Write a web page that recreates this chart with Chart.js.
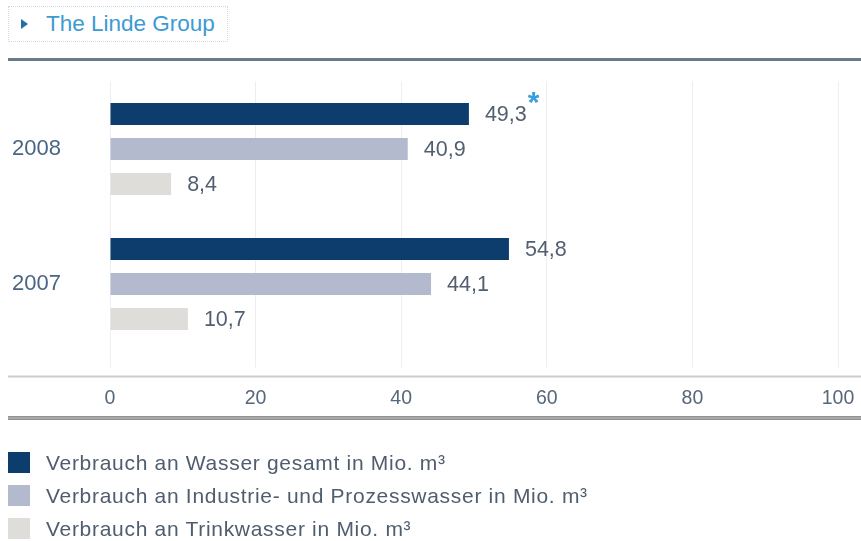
<!DOCTYPE html>
<html lang="de">
<head>
<meta charset="utf-8">
<title>Wasserverbrauch</title>
<script src="https://cdn.jsdelivr.net/npm/chart.js@4.4.1/dist/chart.umd.min.js"></script>
<style>
    html, body { margin: 0; padding: 0; background: #fff; }
    body {
        width: 861px; height: 541px; position: relative; overflow: hidden;
        font-family: 'Liberation Sans', Arial, sans-serif;
    }
    #chart { position: absolute; left: 0; top: 0; }
    .brand {
        position: absolute; left: 8px; top: 6px; width: 220px; height: 36px;
        box-sizing: border-box; border: 1px dotted #d3d9e2;
        color: #3c9ad4; font-size: 22.5px; line-height: 34px;
    }
    .brand .arrow {
        position: absolute; left: 12px; top: 12px; width: 0; height: 0;
        border-top: 5px solid transparent; border-bottom: 5px solid transparent;
        border-left: 7px solid #1f6fa8;
    }
    .brand .name { position: absolute; left: 37px; top: 0; }
    .rule-top { position: absolute; left: 8px; right: 0; top: 58px; height: 3px; background: #687b8a; }
    .rule-bottom {
        position: absolute; left: 8px; right: 0; top: 416px; height: 4px;
        background: linear-gradient(#858585, #b5b5b5 50%, #858585);
    }
    #legend { position: absolute; left: 8px; top: 452px; margin: 0; padding: 0; list-style: none; }
    #legend li {
        display: flex; align-items: center; height: 21px; margin-bottom: 12px;
        font-size: 21px; letter-spacing: 0.7px; color: #4f5d6e;
    }
    #legend .swatch { width: 22px; height: 21px; margin-right: 16px; flex: none; }
</style>
</head>
<body>
<div class="brand"><span class="arrow"></span><span class="name">The Linde Group</span></div>
<div class="rule-top"></div>
<canvas id="chart" width="861" height="541"></canvas>
<div class="rule-bottom"></div>
<ul id="legend"></ul>
<script>
// Wasserverbrauch in Mio. m³
const years = ['2008', '2007'];
const totalWater = [49.3, 54.8];
const industrialWater = [40.9, 44.1];
const drinkingWater = [8.4, 10.7];
const totalNotes = ['*', ''];
const xTicks = [0, 20, 40, 60, 80, 100];
const seriesNames = [
    'Verbrauch an Wasser gesamt in Mio. m³',
    'Verbrauch an Industrie- und Prozesswasser in Mio. m³',
    'Verbrauch an Trinkwasser in Mio. m³',
];

const colors = ['#0c3d6c', '#b3bacd', '#dfddd9'];
const textColor = '#525f70';
const fontFamily = "'Liberation Sans', Arial, sans-serif";

// Grundlinie unter den Balken
const axisBaseline = {
    id: 'axisBaseline',
    beforeDatasetsDraw(chart) {
        const x = chart.scales.x;
        const y = x.top + x.options.grid.tickLength + 9;
        const ctx = chart.ctx;
        ctx.save();
        ctx.strokeStyle = '#c9cdd2';
        ctx.lineWidth = 2;
        ctx.beginPath();
        ctx.moveTo(8, y);
        ctx.lineTo(chart.width, y);
        ctx.stroke();
        ctx.restore();
    },
};

// Werte rechts neben den Balken, mit Komma
const valueLabels = {
    id: 'valueLabels',
    afterDatasetsDraw(chart) {
        const ctx = chart.ctx;
        ctx.save();
        ctx.textBaseline = 'middle';
        chart.data.datasets.forEach((ds, di) => {
            chart.getDatasetMeta(di).data.forEach((bar, i) => {
                const text = ds.data[i].toFixed(1).replace('.', ',');
                const x = bar.x + 16;
                ctx.font = '21.5px ' + fontFamily;
                ctx.fillStyle = textColor;
                ctx.fillText(text, x, bar.y + 1);
                if (di === 0 && totalNotes[i]) {
                    const w = ctx.measureText(text).width;
                    ctx.font = 'bold 30px ' + fontFamily;
                    ctx.fillStyle = '#3a9fd9';
                    ctx.fillText(totalNotes[i], x + w + 1, bar.y - 10);
                }
            });
        });
        ctx.restore();
    },
};

const chart = new Chart(document.getElementById('chart'), {
    type: 'bar',
    data: {
        labels: years,
        datasets: [
            { label: seriesNames[0], data: totalWater, backgroundColor: colors[0] },
            { label: seriesNames[1], data: industrialWater, backgroundColor: colors[1] },
            { label: seriesNames[2], data: drinkingWater, backgroundColor: colors[2] },
        ],
    },
    options: {
        indexAxis: 'y',
        responsive: false,
        animation: false,
        barPercentage: 0.63,
        categoryPercentage: 0.778,
        layout: { padding: { left: 12, right: 23, top: 81.5, bottom: 129.5 } },
        plugins: { legend: { display: false }, tooltip: { enabled: false } },
        scales: {
            x: {
                type: 'linear',
                min: 0,
                max: 100,
                afterBuildTicks: scale => {
                    scale.ticks = xTicks.map(v => ({ value: v }));
                },
                afterFit: scale => {
                    // "100" darf über den Rand hinausragen
                    scale.height = 60;
                    scale.paddingLeft = 0;
                    scale.paddingRight = 0;
                },
                grid: { color: '#eceef1', tickColor: '#eceef1', tickLength: 16 },
                border: { display: false },
                ticks: { padding: 19, color: '#56677a', font: { family: fontFamily, size: 19.5 } },
            },
            y: {
                afterFit: scale => {
                    scale.width = 98;
                },
                grid: { display: false },
                border: { display: false },
                ticks: { crossAlign: 'far', padding: 0, color: '#4b6584', font: { family: fontFamily, size: 22 } },
            },
        },
    },
    plugins: [axisBaseline, valueLabels],
});

// Legende
const legend = document.getElementById('legend');
chart.data.datasets.forEach(ds => {
    const li = document.createElement('li');
    const box = document.createElement('span');
    box.className = 'swatch';
    box.style.background = ds.backgroundColor;
    li.appendChild(box);
    li.appendChild(document.createTextNode(ds.label));
    legend.appendChild(li);
});
</script>
</body>
</html>
